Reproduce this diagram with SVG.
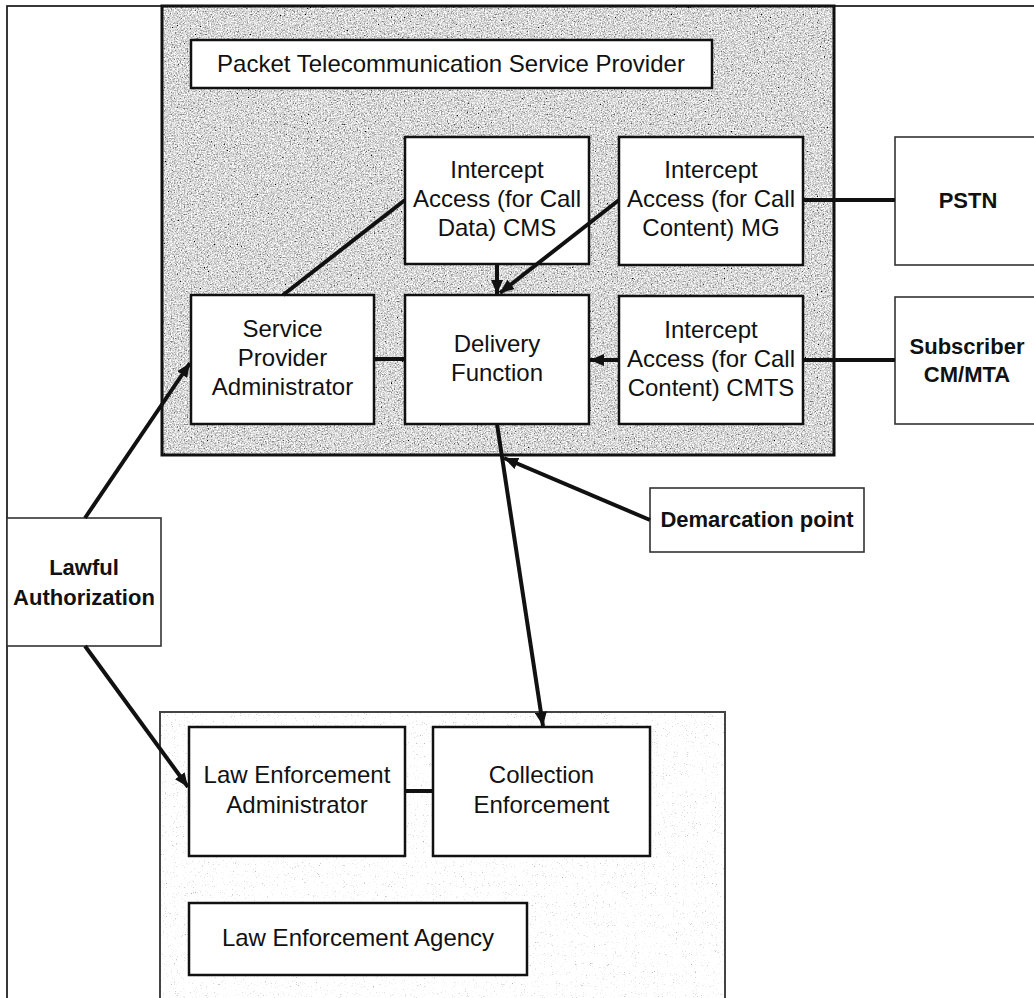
<svg xmlns="http://www.w3.org/2000/svg" width="1034" height="998" viewBox="0 0 1034 998">
  <defs>
    <style>
      text { font-family: "Liberation Sans", Arial, sans-serif; font-size: 24px; fill: #111; text-anchor: middle; }
      text.b { font-weight: bold; font-size: 22px; }
      .box { fill: #fff; stroke: #111; stroke-width: 2.5; }
      .thin { fill: #fff; stroke: #333; stroke-width: 1.6; }
      .ln { stroke: #111; stroke-width: 4; fill: none; }
      .arr { marker-end: url(#head); }
    </style>
    <marker id="head" markerUnits="userSpaceOnUse" markerWidth="15" markerHeight="12" refX="14" refY="6" orient="auto">
      <path d="M0,0 L14,6 L0,12 z" fill="#111"/>
    </marker>
    <!-- coarse stippled grey for the provider enclosure -->
    <filter id="grain" x="0" y="0" width="1" height="1" filterUnits="objectBoundingBox">
      <feTurbulence type="fractalNoise" baseFrequency="0.7" numOctaves="4" seed="7" result="n"/>
      <feColorMatrix in="n" type="matrix" values="0.33 0.33 0.33 0 0  0.33 0.33 0.33 0 0  0.33 0.33 0.33 0 0  0 0 0 0 1" result="g"/>
      <feComponentTransfer in="g">
        <feFuncR type="linear" slope="3" intercept="-0.8"/>
        <feFuncG type="linear" slope="3" intercept="-0.8"/>
        <feFuncB type="linear" slope="3" intercept="-0.8"/>
      </feComponentTransfer>
    </filter>
    <!-- faint speckle for the agency enclosure -->
    <filter id="speck" x="0" y="0" width="1" height="1" filterUnits="objectBoundingBox">
      <feTurbulence type="fractalNoise" baseFrequency="0.9" numOctaves="2" seed="3" result="n"/>
      <feColorMatrix in="n" type="matrix" values="0.33 0.33 0.33 0 0  0.33 0.33 0.33 0 0  0.33 0.33 0.33 0 0  0 0 0 0 1" result="g"/>
      <feComponentTransfer in="g">
        <feFuncR type="linear" slope="3" intercept="-0.25"/>
        <feFuncG type="linear" slope="3" intercept="-0.25"/>
        <feFuncB type="linear" slope="3" intercept="-0.25"/>
      </feComponentTransfer>
    </filter>
  </defs>

  <rect width="1034" height="998" fill="#fff"/>
  <!-- outer frame -->
  <rect x="7" y="6" width="1040" height="1000" fill="none" stroke="#222" stroke-width="1.8"/>

  <!-- provider enclosure -->
  <g id="provider-area">
    <rect x="162" y="6" width="672" height="449" fill="#aaa" filter="url(#grain)"/>
    <rect x="162" y="6" width="672" height="449" fill="none" stroke="#111" stroke-width="3"/>
  </g>

  <!-- agency enclosure -->
  <g id="agency-area">
    <rect x="160" y="712" width="565" height="292" fill="#f4f4f4" filter="url(#speck)"/>
    <rect x="160" y="712" width="565" height="292" fill="none" stroke="#444" stroke-width="2"/>
  </g>

  <g id="ptsp-title">
    <rect class="box" x="191" y="40" width="521" height="48"/>
    <text x="451" y="72">Packet Telecommunication Service Provider</text>
  </g>

  <g id="ia-cms">
    <rect class="box" x="405" y="137" width="184" height="127"/>
    <text x="497" y="178">Intercept</text>
    <text x="497" y="207">Access (for Call</text>
    <text x="497" y="236">Data) CMS</text>
  </g>

  <g id="ia-mg">
    <rect class="box" x="619" y="137" width="184" height="128"/>
    <text x="711" y="178">Intercept</text>
    <text x="711" y="207">Access (for Call</text>
    <text x="711" y="236">Content) MG</text>
  </g>

  <g id="sp-admin">
    <rect class="box" x="191" y="295" width="183" height="129"/>
    <text x="282.5" y="337">Service</text>
    <text x="282.5" y="366">Provider</text>
    <text x="282.5" y="395">Administrator</text>
  </g>

  <g id="delivery">
    <rect class="box" x="405" y="295" width="184" height="129"/>
    <text x="497" y="352">Delivery</text>
    <text x="497" y="381">Function</text>
  </g>

  <g id="ia-cmts">
    <rect class="box" x="619" y="296" width="184" height="128"/>
    <text x="711" y="338">Intercept</text>
    <text x="711" y="367">Access (for Call</text>
    <text x="711" y="396">Content) CMTS</text>
  </g>

  <g id="pstn">
    <rect class="thin" x="895" y="137" width="150" height="128"/>
    <text class="b" x="968" y="208">PSTN</text>
  </g>

  <g id="subscriber">
    <rect class="thin" x="895" y="297" width="150" height="127"/>
    <text class="b" x="967" y="354">Subscriber</text>
    <text class="b" x="967" y="382">CM/MTA</text>
  </g>

  <g id="lawful">
    <rect class="thin" x="7" y="518" width="154" height="128"/>
    <text class="b" x="84" y="575">Lawful</text>
    <text class="b" x="84" y="605">Authorization</text>
  </g>

  <g id="demarcation">
    <rect class="thin" x="650" y="488" width="214" height="64"/>
    <text class="b" x="757" y="527">Demarcation point</text>
  </g>

  <g id="le-admin">
    <rect class="box" x="189" y="727" width="216" height="129"/>
    <text x="297" y="783">Law Enforcement</text>
    <text x="297" y="813">Administrator</text>
  </g>

  <g id="collection">
    <rect class="box" x="433" y="727" width="217" height="129"/>
    <text x="541.5" y="783">Collection</text>
    <text x="541.5" y="813">Enforcement</text>
  </g>

  <g id="lea">
    <rect class="box" x="189" y="903" width="338" height="72"/>
    <text x="358" y="946">Law Enforcement Agency</text>
  </g>

  <g id="connectors">
    <line class="ln arr" x1="85" y1="518" x2="190" y2="363"/>
    <line class="ln arr" x1="85" y1="646" x2="188" y2="787"/>
    <line class="ln" x1="283" y1="295" x2="405" y2="200"/>
    <line class="ln arr" x1="619" y1="200" x2="500" y2="293"/>
    <line class="ln arr" x1="497" y1="264" x2="497" y2="294"/>
    <line class="ln arr" x1="619" y1="360" x2="590" y2="360"/>
    <line class="ln" x1="374" y1="359" x2="405" y2="359" stroke-width="5"/>
    <line class="ln" x1="803" y1="200" x2="834" y2="200" stroke-width="6"/>
    <line class="ln" x1="834" y1="200" x2="895" y2="200" stroke-width="3.5"/>
    <line class="ln" x1="803" y1="360" x2="834" y2="360" stroke-width="6"/>
    <line class="ln" x1="834" y1="360" x2="895" y2="360" stroke-width="3.5"/>
    <line class="ln arr" x1="497" y1="424" x2="543" y2="726"/>
    <line class="ln arr" x1="650" y1="520" x2="504" y2="458"/>
    <line class="ln" x1="405" y1="791" x2="433" y2="791" stroke-width="5"/>
  </g>
</svg>
